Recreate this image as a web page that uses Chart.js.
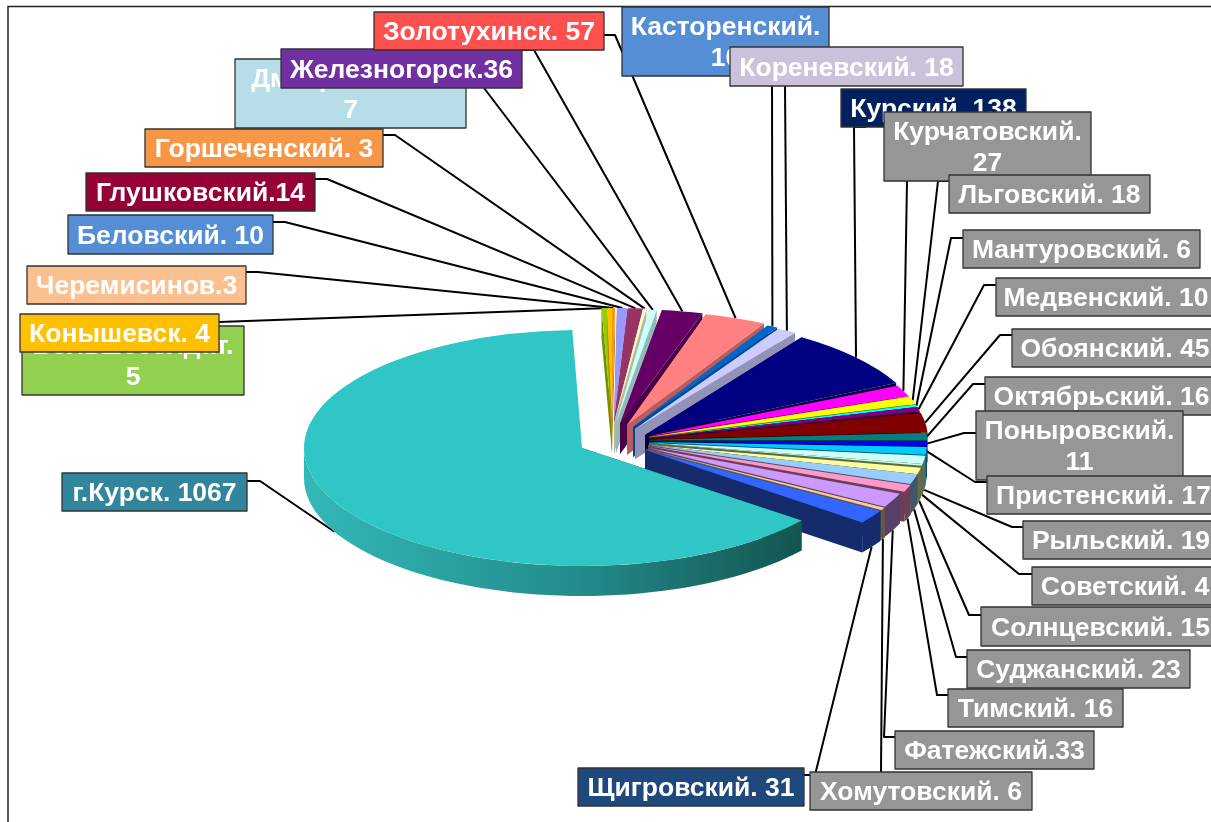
<!DOCTYPE html>
<html>
<head>
<meta charset="utf-8">
<script src="https://cdn.jsdelivr.net/npm/chart.js@4/dist/chart.umd.js"></script>
<style>
body { margin: 0; background: #fff; overflow: hidden; }
canvas { display: block; }
</style>
</head>
<body>
<canvas id="chart" width="1211" height="822"></canvas>
<script>
// data
const categories = ['Большесолдат.', 'Конышевск.', 'Черемисинов.', 'Беловский.', 'Глушковский.', 'Горшеченский.', 'Дмитриевский.', 'Железногорск.', 'Золотухинск.', 'Касторенский.', 'Кореневский.', 'Курский.', 'Курчатовский.', 'Льговский.', 'Мантуровский.', 'Медвенский.', 'Обоянский.', 'Октябрьский.', 'Поныровский.', 'Пристенский.', 'Рыльский.', 'Советский.', 'Солнцевский.', 'Суджанский.', 'Тимский.', 'Фатежский.', 'Хомутовский.', 'Щигровский.', 'г.Курск.'];
const values = [5, 4, 3, 10, 14, 3, 7, 36, 57, 10, 18, 138, 27, 18, 6, 10, 45, 16, 11, 17, 19, 4, 15, 23, 16, 33, 6, 31, 1067];
// labels written without a space before the number / labels on two lines
const tightLabels = [2, 4, 7, 25];
const twoLineLabels = [0, 6, 9, 12, 18];

// slice colours
const sliceColors = ['#99CC00', '#FFC000', '#FF9900', '#9999FF', '#993366', '#FFFFCC', '#CCFFFF', '#660066', '#FF8080', '#0066CC', '#CCCCFF', '#000080', '#FF00FF', '#FFFF00', '#00FFFF', '#800080', '#800000', '#008080', '#0000FF', '#00CCFF', '#CCFFFF', '#CCFFCC', '#FFFF99', '#99CCFF', '#FF99CC', '#CC99FF', '#FFCC99', '#3366FF', '#30C6C6'];

// 3d look: where each exploded slice sits and how it is squashed [x, y, rx, ry]
const sliceViews = [
  [612, 423, 300, 115], [612, 423, 300, 115], [612, 423, 300, 115], [614, 423, 290, 115],
  [614, 423, 290, 115], [614, 423, 290, 115], [616, 423, 295, 114], [620, 424, 305, 115],
  [627, 425, 292, 115], [633, 427, 287, 115], [635, 429, 286, 116], [645, 435, 280, 118],
  [649, 436, 277, 114], [649, 437, 278, 116], [649, 438, 278, 118], [649, 438, 278, 118],
  [650, 439, 278, 115], [649, 440, 278, 118], [649, 441, 278, 118], [649, 442, 278, 118],
  [649, 443, 278, 118], [649, 443, 278, 118], [648, 445, 278, 118], [648, 445, 278, 118],
  [648, 446, 278, 118], [648, 448, 273, 118], [646, 449, 275, 118], [645, 450, 275, 118],
  [582, 448, 278, 118]
];
const depth = 30;

// label boxes [x0, y0, x1, y1]
const labelBoxes = [
  [22, 326, 244, 395], [20, 314, 219, 352], [27, 266, 246, 304], [68, 215, 273, 254],
  [86, 173, 315, 211], [145, 129, 383, 167], [235, 59, 466, 128], [281, 49, 522, 88],
  [374, 12, 604, 50], [622, 7, 829, 76], [730, 47, 963, 86], [841, 89, 1026, 127],
  [884, 112, 1091, 181], [949, 175, 1150, 213], [963, 230, 1200, 268], [996, 278, 1216, 316],
  [1012, 329, 1218, 367], [985, 377, 1218, 415], [976, 411, 1183, 480], [987, 476, 1220, 514],
  [1023, 521, 1219, 559], [1032, 567, 1218, 605], [981, 607, 1220, 646], [967, 650, 1190, 688],
  [948, 689, 1123, 727], [895, 731, 1094, 769], [810, 772, 1032, 810], [578, 768, 804, 806],
  [62, 473, 247, 511]
];
const boxColors = ['#92D050', '#FFC000', '#FAC090', '#558ED5', '#950035', '#F79646', '#B7DEE8', '#7030A0', '#FF5050', '#558ED5', '#CCC1DA', '#002060', '#969696', '#969696', '#969696', '#969696', '#969696', '#969696', '#969696', '#969696', '#969696', '#969696', '#969696', '#969696', '#969696', '#969696', '#969696', '#1F497D', '#31859C'];

// leader lines: points from the box towards the slice
const leaderStarts = [
  null, [[219, 322]], [[246, 272], [258, 272]], [[273, 222], [285, 222]],
  [[315, 179], [327, 179]], [[383, 135], [395, 135]], [[484, 88]], [[522, 50], [534, 50]],
  [[604, 35], [615, 35]], [[772, 76]], [[785, 86]], [[866, 127], [854, 127]],
  [[907, 181]], [[948, 181], [938, 181]], [[963, 238], [951, 238]], [[996, 285], [984, 285]],
  [[1012, 335], [1000, 335]], [[985, 384], [973, 384]], [[976, 433], [964, 433]], [[987, 482], [975, 482]],
  [[1023, 527], [1012, 527]], [[1032, 574], [1019, 574]], [[981, 615], [969, 615]], [[967, 657], [956, 657]],
  [[948, 695], [937, 695]], [[895, 737], [884, 737]], [[881, 772]], [[804, 775], [815, 775]],
  [[247, 481], [260, 481]]
];
const firstBaseLeader = 20; // from here on the line goes to the bottom of the wall

function darken(hex, f) {
  const n = parseInt(hex.slice(1), 16);
  return 'rgb(' + Math.round((n >> 16) * f) + ',' + Math.round(((n >> 8) & 255) * f) + ',' + Math.round((n & 255) * f) + ')';
}

function rimPoint(i, angle) {
  const v = sliceViews[i];
  return [v[0] + v[2] * Math.cos(angle), v[1] + v[3] * Math.sin(angle)];
}

function drawWall(ctx, i, angle, fill) {
  const v = sliceViews[i];
  const p = rimPoint(i, angle);
  ctx.fillStyle = fill;
  ctx.beginPath();
  ctx.moveTo(v[0], v[1]);
  ctx.lineTo(p[0], p[1]);
  ctx.lineTo(p[0], p[1] + depth);
  ctx.lineTo(v[0], v[1] + depth);
  ctx.closePath();
  ctx.fill();
}

function drawRimWall(ctx, i, from, to, fill) {
  if (to <= from) return;
  ctx.fillStyle = fill;
  ctx.beginPath();
  for (let k = 0; k <= 60; k++) {
    const p = rimPoint(i, from + (to - from) * k / 60);
    if (k === 0) ctx.moveTo(p[0], p[1]); else ctx.lineTo(p[0], p[1]);
  }
  for (let k = 60; k >= 0; k--) {
    const p = rimPoint(i, from + (to - from) * k / 60);
    ctx.lineTo(p[0], p[1] + depth);
  }
  ctx.closePath();
  ctx.fill();
}

function labelLines(i) {
  if (twoLineLabels.includes(i)) return [categories[i], String(values[i])];
  return [categories[i] + (tightLabels.includes(i) ? '' : ' ') + values[i]];
}

const pie3d = {
  id: 'pie3d',
  beforeDatasetsDraw(chart) {
    const ctx = chart.ctx;
    const arcs = chart.getDatasetMeta(0).data;

    // frame
    ctx.strokeStyle = '#222';
    ctx.lineWidth = 1.5;
    ctx.strokeRect(8, 6.5, 1400, 1000);

    // leader lines go under the pie
    ctx.strokeStyle = '#000';
    ctx.lineWidth = 2;
    ctx.lineJoin = 'round';
    arcs.forEach(function (arc, i) {
      if (!leaderStarts[i]) return;
      const end = rimPoint(i, (arc.startAngle + arc.endAngle) / 2);
      ctx.beginPath();
      leaderStarts[i].forEach(function (p, k) {
        if (k === 0) ctx.moveTo(p[0], p[1]); else ctx.lineTo(p[0], p[1]);
      });
      ctx.lineTo(end[0], end[1] + (i >= firstBaseLeader ? depth : 0));
      ctx.stroke();
    });

    // slices back to front, walls first
    arcs.forEach(function (arc, i) {
      const v = sliceViews[i];
      const shade = darken(sliceColors[i], i <= 10 ? 0.72 : 0.42);
      drawWall(ctx, i, arc.startAngle, shade);
      if (i < arcs.length - 1) drawWall(ctx, i, arc.endAngle, shade);
      let rimFill = shade;
      if (i === arcs.length - 1) {
        rimFill = ctx.createLinearGradient(304, 0, 800, 0);
        rimFill.addColorStop(0, '#33B8B8');
        rimFill.addColorStop(0.55, '#238C8C');
        rimFill.addColorStop(1, '#145550');
      }
      drawRimWall(ctx, i, Math.max(arc.startAngle, 0), Math.min(arc.endAngle, Math.PI), rimFill);

      ctx.save();
      ctx.translate(v[0], v[1]);
      ctx.scale(v[2] / arc.outerRadius, v[3] / arc.outerRadius);
      ctx.translate(-arc.x, -arc.y);
      arc.draw(ctx);
      ctx.restore();
    });

    // label boxes
    ctx.font = 'bold 26.5px "Liberation Sans", Arial, sans-serif';
    ctx.textAlign = 'center';
    ctx.textBaseline = 'middle';
    labelBoxes.forEach(function (b, i) {
      ctx.fillStyle = boxColors[i];
      ctx.fillRect(b[0], b[1], b[2] - b[0], b[3] - b[1]);
      ctx.strokeStyle = '#333';
      ctx.lineWidth = 1.3;
      ctx.strokeRect(b[0], b[1], b[2] - b[0], b[3] - b[1]);
      const lines = labelLines(i);
      const cx = (b[0] + b[2]) / 2;
      const cy = (b[1] + b[3]) / 2;
      ctx.fillStyle = '#fff';
      lines.forEach(function (t, k) {
        ctx.fillText(t, cx, cy + 2 + (k - (lines.length - 1) / 2) * 31);
      });
    });
    return false;
  }
};

new Chart(document.getElementById('chart'), {
  type: 'pie',
  data: {
    labels: categories,
    datasets: [{
      data: values,
      backgroundColor: sliceColors,
      borderWidth: 0
    }]
  },
  options: {
    responsive: false,
    animation: false,
    events: [],
    rotation: -2,
    plugins: { legend: { display: false }, tooltip: { enabled: false } }
  },
  plugins: [pie3d]
});
</script>
</body>
</html>
